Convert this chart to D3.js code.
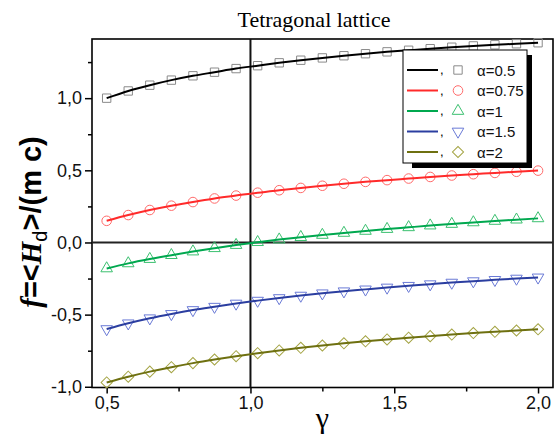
<!DOCTYPE html>
<html>
<head>
<meta charset="utf-8">
<script src="https://cdn.jsdelivr.net/npm/d3@7"></script>
<style>
  body { margin: 0; background: #fff; }
  svg { display: block; }
</style>
</head>
<body>
<div id="chart"></div>
<script>
// gamma values where the markers sit
var gamma = [0.5, 0.575, 0.65, 0.725, 0.8, 0.875, 0.95, 1.025, 1.1, 1.175, 1.25,
  1.325, 1.4, 1.475, 1.55, 1.625, 1.7, 1.775, 1.85, 1.925, 2.0];

var alpha05 = [1.0, 1.05, 1.09, 1.125, 1.155, 1.18, 1.205, 1.225, 1.245, 1.263, 1.279,
  1.294, 1.308, 1.321, 1.332, 1.343, 1.353, 1.362, 1.37, 1.377, 1.384];
var alpha075 = [0.15, 0.19, 0.225, 0.255, 0.28, 0.305, 0.325, 0.345, 0.362, 0.378, 0.393,
  0.407, 0.42, 0.432, 0.443, 0.454, 0.464, 0.473, 0.482, 0.49, 0.498];
var alpha1 = [-0.18, -0.145, -0.115, -0.088, -0.063, -0.04, -0.018, 0.002, 0.02, 0.037, 0.052,
  0.066, 0.08, 0.093, 0.105, 0.117, 0.128, 0.139, 0.149, 0.158, 0.167];
var alpha15 = [-0.6, -0.56, -0.525, -0.495, -0.468, -0.445, -0.423, -0.403, -0.385, -0.368, -0.352,
  -0.338, -0.325, -0.312, -0.3, -0.289, -0.278, -0.268, -0.259, -0.25, -0.242];
var alpha2 = [-0.97, -0.93, -0.895, -0.864, -0.836, -0.811, -0.788, -0.767, -0.748, -0.73, -0.714,
  -0.699, -0.685, -0.672, -0.66, -0.649, -0.638, -0.628, -0.619, -0.61, -0.602];

var seriesNames = ['α=0.5', 'α=0.75', 'α=1', 'α=1.5', 'α=2'];
var xTicks = [0.5, 1.0, 1.5, 2.0];
var xMinorTicks = [0.75, 1.25, 1.75];
var yTicks = [-1.0, -0.5, 0.0, 0.5, 1.0];
var yMinorTicks = [-0.75, -0.25, 0.25, 0.75, 1.25];

var series = [
  {name: seriesNames[0], values: alpha05, line: '#000000', mark: '#8a8a8a', shape: 'square'},
  {name: seriesNames[1], values: alpha075, line: '#ff2a2a', mark: '#ff6a6a', shape: 'circle'},
  {name: seriesNames[2], values: alpha1, line: '#00a84f', mark: '#3cc070', shape: 'up'},
  {name: seriesNames[3], values: alpha15, line: '#2b3ea0', mark: '#6a7ad6', shape: 'down'},
  {name: seriesNames[4], values: alpha2, line: '#6e7010', mark: '#a4a444', shape: 'diamond'}
];

var W = 555, H = 439;
var plot = {left: 92, right: 553, top: 39, bottom: 387.5};

var svg = d3.select('#chart').append('svg')
  .attr('width', W)
  .attr('height', H);

var x = d3.scaleLinear().domain([0.449, 2.052]).range([plot.left, plot.right]);
var y = d3.scaleLinear().domain([-1.005, 1.41]).range([plot.bottom, plot.top]);

var loc = d3.formatLocale({decimal: ',', thousands: '.', grouping: [3], currency: ['', ''], minus: '-'});
var fmt = loc.format('.1f');

// axes
svg.append('g')
  .attr('transform', 'translate(0,' + plot.bottom + ')')
  .call(d3.axisBottom(x).tickValues(xTicks).tickFormat(fmt).tickSize(6).tickPadding(3));
svg.append('g')
  .attr('transform', 'translate(0,' + plot.bottom + ')')
  .call(d3.axisBottom(x).tickValues(xMinorTicks).tickFormat('').tickSize(4));

svg.append('g')
  .attr('transform', 'translate(' + plot.left + ',0)')
  .call(d3.axisLeft(y).tickValues(yTicks).tickFormat(fmt).tickSize(7).tickPadding(3));
svg.append('g')
  .attr('transform', 'translate(' + plot.left + ',0)')
  .call(d3.axisLeft(y).tickValues(yMinorTicks).tickFormat('').tickSize(4));

svg.selectAll('.domain').remove();
svg.selectAll('.tick line').attr('stroke', '#000').attr('stroke-width', 1.5);
svg.selectAll('.tick text')
  .attr('fill', '#111')
  .style('font-family', '"Liberation Sans", Arial, sans-serif')
  .style('font-size', '18px');

// frame
svg.append('rect')
  .attr('x', plot.left).attr('y', plot.top)
  .attr('width', plot.right - plot.left)
  .attr('height', plot.bottom - plot.top)
  .attr('fill', 'none')
  .attr('stroke', '#000')
  .attr('stroke-width', 1.6);

// reference lines at f=0 and gamma=1
svg.append('line')
  .attr('x1', plot.left).attr('x2', plot.right)
  .attr('y1', y(0)).attr('y2', y(0))
  .attr('stroke', '#222').attr('stroke-width', 2);
svg.append('line')
  .attr('x1', x(1)).attr('x2', x(1))
  .attr('y1', plot.top).attr('y2', plot.bottom)
  .attr('stroke', '#111').attr('stroke-width', 2);

function symbolPath(shape) {
  if (shape === 'square') return d3.symbol(d3.symbolSquare, 70)();
  if (shape === 'circle') return d3.symbol(d3.symbolCircle, 72)();
  if (shape === 'up' || shape === 'down') return d3.symbol(d3.symbolTriangle, 58)();
  return d3.symbol(d3.symbolSquare, 62)();
}
function symbolRot(shape) {
  if (shape === 'down') return ' rotate(180)';
  if (shape === 'diamond') return ' rotate(45)';
  return '';
}

var line = d3.line()
  .x(function (d, i) { return x(gamma[i]); })
  .y(function (d) { return y(d); })
  .curve(d3.curveMonotoneX);

series.forEach(function (s) {
  var g = svg.append('g');
  g.selectAll('path.mark')
    .data(s.values)
    .enter().append('path')
    .attr('class', 'mark')
    .attr('d', symbolPath(s.shape))
    .attr('transform', function (d, i) {
      return 'translate(' + x(gamma[i]) + ',' + y(d) + ')' + symbolRot(s.shape);
    })
    .attr('fill', 'none')
    .attr('stroke', s.mark)
    .attr('stroke-width', 1);
  g.append('path')
    .datum(s.values)
    .attr('d', line)
    .attr('fill', 'none')
    .attr('stroke', s.line)
    .attr('stroke-width', 2);
});

// legend with drop shadow
var lg = {x: 403, y: 50, w: 124, h: 113, off: 5};
svg.append('rect')
  .attr('x', lg.x + lg.off + 4).attr('y', lg.y + lg.off)
  .attr('width', lg.w - 4).attr('height', lg.h)
  .attr('fill', '#000');
svg.append('rect')
  .attr('x', lg.x).attr('y', lg.y)
  .attr('width', lg.w).attr('height', lg.h)
  .attr('fill', '#fff')
  .attr('stroke', '#000')
  .attr('stroke-width', 1);

var legendRow = d3.scaleLinear().domain([0, 4]).range([70, 152]);
var rows = svg.append('g').selectAll('g')
  .data(series)
  .enter().append('g')
  .attr('transform', function (d, i) { return 'translate(0,' + legendRow(i) + ')'; });

rows.append('line')
  .attr('x1', 407).attr('x2', 438)
  .attr('stroke', function (d) { return d.line; })
  .attr('stroke-width', 2);
rows.append('text')
  .attr('x', 440).attr('y', 4)
  .style('font-family', '"Liberation Sans", Arial, sans-serif')
  .style('font-size', '13px')
  .text(',');
rows.append('path')
  .attr('d', function (d) { return symbolPath(d.shape); })
  .attr('transform', function (d) { return 'translate(458,0)' + symbolRot(d.shape); })
  .attr('fill', 'none')
  .attr('stroke', function (d) { return d.mark; })
  .attr('stroke-width', 1);
rows.append('text')
  .attr('x', 477).attr('y', 5.5)
  .attr('fill', '#111')
  .style('font-family', '"Liberation Sans", Arial, sans-serif')
  .style('font-size', '15px')
  .text(function (d) { return d.name; });

// title
svg.append('text')
  .attr('x', 314).attr('y', 27)
  .attr('text-anchor', 'middle')
  .style('font-family', '"Liberation Serif", "Times New Roman", serif')
  .style('font-size', '22px')
  .text('Tetragonal lattice');

// x label
svg.append('text')
  .attr('x', (plot.left + plot.right) / 2)
  .attr('y', 428)
  .attr('text-anchor', 'middle')
  .style('font-family', '"Liberation Serif", "Times New Roman", serif')
  .style('font-size', '30px')
  .text('γ');

// y label
var yl = svg.append('text')
  .attr('transform', 'translate(41,222) rotate(-90)')
  .attr('text-anchor', 'middle')
  .style('font-size', '29px')
  .style('font-weight', 'bold');
yl.append('tspan')
  .style('font-family', '"Liberation Serif", "Times New Roman", serif')
  .style('font-style', 'italic')
  .text('f');
yl.append('tspan')
  .style('font-family', '"Liberation Sans", Arial, sans-serif')
  .text('=<');
yl.append('tspan')
  .style('font-family', '"Liberation Serif", "Times New Roman", serif')
  .style('font-style', 'italic')
  .text('H');
yl.append('tspan')
  .attr('dy', 6)
  .style('font-family', '"Liberation Sans", Arial, sans-serif')
  .style('font-weight', 'normal')
  .style('font-size', '20px')
  .text('d');
yl.append('tspan')
  .attr('dy', -6)
  .style('font-family', '"Liberation Sans", Arial, sans-serif')
  .text('>/(m c)');
</script>
</body>
</html>
